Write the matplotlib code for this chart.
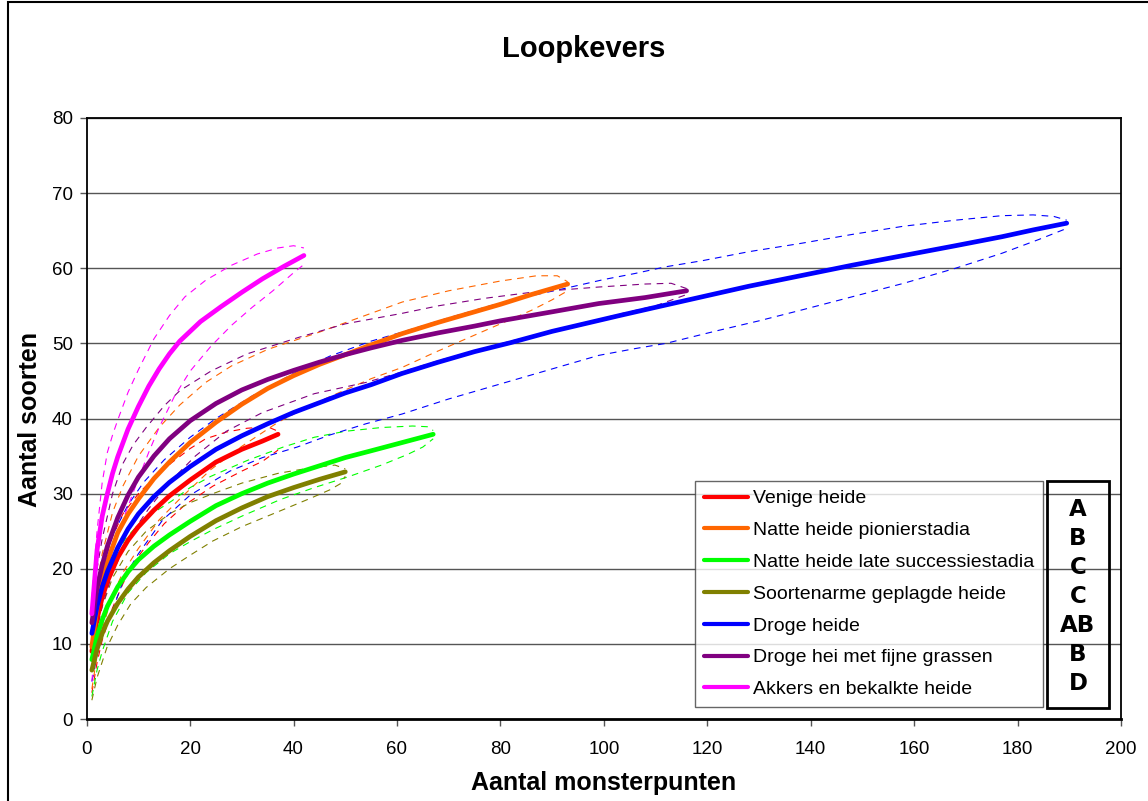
import matplotlib
matplotlib.use("Agg")
import matplotlib.pyplot as plt
from matplotlib.patches import Rectangle

# ---------------- data ----------------
series_names = ["Venige heide", "Natte heide pionierstadia", "Natte heide late successiestadia",
                "Soortenarme geplagde heide", "Droge heide", "Droge hei met fijne grassen",
                "Akkers en bekalkte heide"]
series_colors = ["#FF0000", "#FF6600", "#00FF00", "#808000", "#0000FF", "#800080", "#FF00FF"]
group_letters = ["A", "B", "C", "C", "AB", "B", "D"]

# Venige heide
venige_x = [1, 2, 3, 4, 6, 8, 10, 13, 16, 20, 25, 30, 34, 37]
venige_y = [9, 13.3, 16.2, 18.3, 21.5, 23.8, 25.6, 27.8, 29.7, 31.8, 34.2, 35.9, 37.0, 37.9]
venige_up_x = [1, 2, 3, 5, 7, 10, 12.6, 16.4, 20, 23, 27, 31, 35, 37]
venige_up_y = [11, 16.5, 20, 24.3, 27.3, 30, 31.8, 34.1, 36, 37.3, 38.2, 38.7, 38.9, 38.3]
venige_lo_x = [1, 2, 3, 5, 7, 9.3, 12, 15, 19, 24.4, 30, 34, 37]
venige_lo_y = [3.5, 7.5, 10.5, 14.8, 18, 21, 23.5, 26, 28.5, 31, 33, 34.3, 35.8]

# Natte heide pionierstadia
natpion_x = [1, 2, 3, 4, 6, 8, 10, 13, 16, 20, 25, 30, 35, 40, 45, 50, 55, 61, 68, 75, 80, 86, 93]
natpion_y = [9.6, 15, 18.5, 21, 24.8, 27.3, 29.3, 32, 34.2, 36.8, 39.5, 41.9, 44.0, 45.7, 47.2,
             48.5, 49.8, 51.3, 52.8, 54.2, 55.2, 56.5, 57.9]
natpion_up_x = [1, 2, 3, 5, 7, 10, 14, 18, 23, 28, 35, 45, 55, 61, 70, 80, 87, 91, 93]
natpion_up_y = [12, 18, 22, 27.5, 31, 35, 38.8, 41.8, 44.8, 47, 49.2, 51.5, 54, 55.5, 57, 58.3, 59, 59, 58.2]
natpion_lo_x = [1, 2, 3, 5, 7, 10, 14, 18, 24, 30, 37, 44, 50, 55, 61, 67, 74, 80, 86, 90, 93]
natpion_lo_y = [4, 8.5, 12, 16.5, 19.5, 22.7, 26.5, 29.3, 33.2, 36.3, 39.5, 42, 43.8, 45.3, 46.8,
                48.7, 50.8, 52.6, 54.4, 55.8, 57]

# Natte heide late successiestadia
natlaat_x = [1, 2, 3, 4, 6, 8, 10, 13, 16, 20, 25, 30, 35, 40, 45, 50, 55, 61, 67]
natlaat_y = [7.9, 11, 13.2, 15, 17.6, 19.6, 21.2, 23, 24.5, 26.3, 28.4, 30.0, 31.4, 32.6, 33.7,
             34.8, 35.7, 36.8, 37.9]
natlaat_up_x = [1, 2, 3, 5, 7.4, 10, 13, 16.4, 20, 24, 31, 38, 44, 50, 57, 63, 66, 67]
natlaat_up_y = [9.5, 14, 17, 21.3, 23.9, 25.9, 27.5, 29, 30.8, 32.3, 34.4, 36.2, 37.5, 38.3, 38.8, 39, 38.9, 38.4]
natlaat_lo_x = [1, 2, 3, 5, 8, 11.5, 16, 20, 24.4, 30, 37.4, 44, 50.4, 57, 62, 65, 67]
natlaat_lo_y = [3, 6.5, 9, 13, 16.8, 19.5, 22, 23.6, 25.2, 27, 29.2, 30.8, 32.2, 33.8, 35.2, 36.2, 37.3]

# Soortenarme geplagde heide
soortarm_x = [1, 2, 3, 4, 6, 8, 10, 13, 16, 20, 25, 30, 35, 40, 45, 50]
soortarm_y = [6.5, 9.3, 11.4, 13, 15.4, 17.3, 18.9, 20.8, 22.4, 24.3, 26.4, 28.1, 29.6, 30.8, 31.9, 32.9]
soortarm_up_x = [1, 2, 3, 5, 8, 11.5, 16, 20, 24.4, 30, 37, 43, 48, 50]
soortarm_up_y = [8, 12, 15, 18.8, 22.3, 25, 27.3, 28.8, 30, 31.4, 32.7, 33.4, 33.8, 33.3]
soortarm_lo_x = [1, 2, 3.9, 6, 8.5, 11.5, 16, 20, 24.4, 30, 37.4, 43, 47, 49, 50]
soortarm_lo_y = [2.5, 5.5, 9.5, 12.5, 15.3, 17.5, 20, 21.8, 23.7, 25.6, 27.7, 29.3, 30.5, 31.3, 32.3]

# Droge heide
droog_x = [1, 2, 3, 4, 6, 8, 10, 13, 16, 20, 25, 30, 35, 40, 45, 50, 55, 61, 68, 75, 82, 90, 103,
           110, 119, 128, 138, 148, 158, 168, 177, 183, 189.5]
droog_y = [11.4, 15, 17.6, 19.6, 22.8, 25.3, 27.3, 29.6, 31.5, 33.6, 35.9, 37.7, 39.3, 40.8, 42.1,
           43.4, 44.5, 46, 47.5, 48.9, 50.1, 51.6, 53.7, 54.8, 56.2, 57.6, 59, 60.4, 61.7, 63, 64.2,
           65.1, 66]
droog_up_x = [1, 2, 3, 5, 8, 11, 15, 20, 25, 32, 40, 47, 55, 61, 70, 78, 85, 93, 100, 106, 112,
              119, 128, 138, 148, 158, 168, 177, 183, 187, 189.5]
droog_up_y = [12, 16.5, 20, 24.5, 28.5, 31.5, 34.5, 37.5, 40, 43, 46, 48.3, 50.3, 51.5, 53.4, 55,
              56.2, 57.4, 58.5, 59.3, 60.2, 61, 62.2, 63.3, 64.5, 65.6, 66.4, 67, 67.1, 66.9, 66.4]
droog_lo_x = [1, 2, 3, 5, 7.4, 10, 14.7, 20, 27.7, 34, 40.7, 47, 54, 61, 70, 80, 90, 99, 106, 112,
              122, 130, 138, 148, 158, 168, 177, 184, 189.5]
droog_lo_y = [5, 8.5, 11, 14.5, 19, 22, 26.5, 29.8, 33, 34.8, 36.2, 37.8, 39.3, 40.6, 42.6, 44.6,
              46.6, 48.4, 49.3, 50, 51.7, 53, 54.4, 56.2, 58, 60, 62, 63.8, 65.3]

# Droge hei met fijne grassen
drooggras_x = [1, 2, 3, 4, 6, 8, 10, 13, 16, 20, 25, 30, 35, 40, 45, 50, 55, 61, 68, 75, 80, 90,
               99, 108, 116]
drooggras_y = [12.8, 17.5, 20.5, 23, 26.8, 29.8, 32.2, 35.0, 37.3, 39.7, 42.0, 43.8, 45.2, 46.4,
               47.5, 48.5, 49.4, 50.4, 51.4, 52.3, 53.0, 54.2, 55.3, 56.1, 57]
drooggras_up_x = [1, 2, 3, 5, 7, 9, 11.5, 15, 18, 24, 31, 41, 50, 61, 68, 77, 86, 99, 108, 113, 116]
drooggras_up_y = [15, 20, 24, 30, 34, 36.5, 38.8, 41.7, 43.7, 46.3, 48.6, 50.8, 52.6, 54, 55, 56,
                  56.8, 57.5, 57.9, 58, 57.3]
drooggras_lo_x = [1, 2, 3, 5, 8, 12, 16, 21, 27, 34, 40, 44, 54, 61, 68, 82, 93, 103, 110, 116]
drooggras_lo_y = [8, 12, 15, 19.5, 24, 28, 31.5, 35, 38.3, 40.8, 42.3, 43.3, 44.8, 46.2, 47.7,
                  50.3, 52.1, 53.9, 55, 56.5]

# Akkers en bekalkte heide
akker_x = [1, 2, 3, 4, 5, 6, 8, 10, 12, 14, 16, 18, 22, 26, 30, 34, 38, 42]
akker_y = [14, 22.5, 27, 30, 32.7, 34.9, 38.6, 41.6, 44.3, 46.6, 48.6, 50.3, 52.9, 54.9, 56.8,
           58.6, 60.2, 61.7]
akker_up_x = [1, 2, 3, 4, 5, 6, 8, 10, 13, 16, 19, 23, 28, 33, 37, 40, 42]
akker_up_y = [16, 25, 31.5, 35.5, 37.8, 39.8, 43.5, 46.5, 50.6, 53.7, 56.2, 58.4, 60.4, 61.9,
              62.7, 63, 62.7]
akker_lo_x = [1, 2, 3, 5, 7, 10, 12, 14, 17, 20, 24, 28, 32, 36, 40, 42]
akker_lo_y = [5, 13.5, 17.5, 22.6, 26.5, 32, 35.5, 38.8, 43, 46.3, 49.6, 52.4, 54.8, 57, 59.4, 60.5]

x_ticks = [0, 20, 40, 60, 80, 100, 120, 140, 160, 180, 200]
y_ticks = [0, 10, 20, 30, 40, 50, 60, 70, 80]

mean_curves = [(venige_x, venige_y), (natpion_x, natpion_y), (natlaat_x, natlaat_y),
               (soortarm_x, soortarm_y), (droog_x, droog_y), (drooggras_x, drooggras_y),
               (akker_x, akker_y)]
upper_curves = [(venige_up_x, venige_up_y), (natpion_up_x, natpion_up_y), (natlaat_up_x, natlaat_up_y),
                (soortarm_up_x, soortarm_up_y), (droog_up_x, droog_up_y),
                (drooggras_up_x, drooggras_up_y), (akker_up_x, akker_up_y)]
lower_curves = [(venige_lo_x, venige_lo_y), (natpion_lo_x, natpion_lo_y), (natlaat_lo_x, natlaat_lo_y),
                (soortarm_lo_x, soortarm_lo_y), (droog_lo_x, droog_lo_y),
                (drooggras_lo_x, drooggras_lo_y), (akker_lo_x, akker_lo_y)]

# ---------------- figure ----------------
W, H = 1148, 801
plt.rcParams['font.family'] = ['Liberation Sans', 'DejaVu Sans']
fig = plt.figure(figsize=(W / 100, H / 100), dpi=100)
fig.patch.set_facecolor("white")

def fx(px):
    return px / W

def fy(py):
    return 1 - py / H

ax_l, ax_r, ax_t, ax_b = 86.7, 1121, 118, 719
ax = fig.add_axes([fx(ax_l), fy(ax_b), fx(ax_r) - fx(ax_l), fy(ax_t) - fy(ax_b)])

# dashed confidence bounds
for (ux, uy), (lx, ly), c in zip(upper_curves, lower_curves, series_colors):
    ax.plot(ux, uy, color=c, lw=0.8, ls=(0, (6, 5)), zorder=2)
    ax.plot(lx, ly, color=c, lw=0.8, ls=(0, (6, 5)), zorder=2)

# mean curves
for (mx, my), c, name in zip(mean_curves, series_colors, series_names):
    ax.plot(mx, my, color=c, lw=3.4, solid_capstyle='round', solid_joinstyle='round',
            label=name, zorder=3)

ax.set_xlim(0, 200)
ax.set_ylim(0, 80)
ax.set_xticks(x_ticks)
ax.set_yticks(y_ticks)
ax.grid(axis='y', color='#555555', lw=1.0, zorder=0)
ax.set_axisbelow(True)
for s in ax.spines.values():
    s.set_color('black')
    s.set_linewidth(1.3)
ax.spines['bottom'].set_linewidth(2)
ax.tick_params(axis='both', direction='out', length=5, width=1, color='#555555', labelsize=13.5)
ax.tick_params(axis='x', pad=11)
ax.tick_params(axis='y', pad=5)

# titles / labels
fig.text(fx(584), fy(49), "Loopkevers", ha='center', va='center', fontsize=21, fontweight='bold')
fig.text(fx(604), fy(783), "Aantal monsterpunten", ha='center', va='center', fontsize=18, fontweight='bold')
fig.text(fx(30), fy(420), "Aantal soorten", ha='center', va='center', rotation=90, fontsize=18,
         fontweight='bold')

# legend
leg = ax.legend(loc='upper left', bbox_to_anchor=(fx(695), fy(481)), bbox_transform=fig.transFigure,
                fontsize=14, frameon=True, fancybox=False, borderaxespad=0, borderpad=0.45,
                handlelength=2.25, handletextpad=0.3, labelspacing=0.73)
leg.get_frame().set_edgecolor('#404040')
leg.get_frame().set_linewidth(1.0)
for h in leg.get_lines():
    h.set_linewidth(3)

# letters box
fig.patches.append(Rectangle((fx(1047), fy(708)), fx(1109) - fx(1047), fy(481) - fy(708),
                             transform=fig.transFigure, fill=False, edgecolor='black', lw=2))
letter_y = [508, 537, 566, 595, 624, 653, 682]
for ly, letter in zip(letter_y, group_letters):
    fig.text(fx(1078), fy(ly + 8.3), letter, ha='center', va='baseline', fontsize=16.5,
             fontweight='bold', family='DejaVu Sans')

# outer figure border
fig.patches.append(Rectangle((fx(8), fy(900)), 1.2, fy(2) - fy(900), transform=fig.transFigure,
                             fill=False, edgecolor='black', lw=1.5))

fig.savefig("out.png", dpi=100, facecolor='white')
